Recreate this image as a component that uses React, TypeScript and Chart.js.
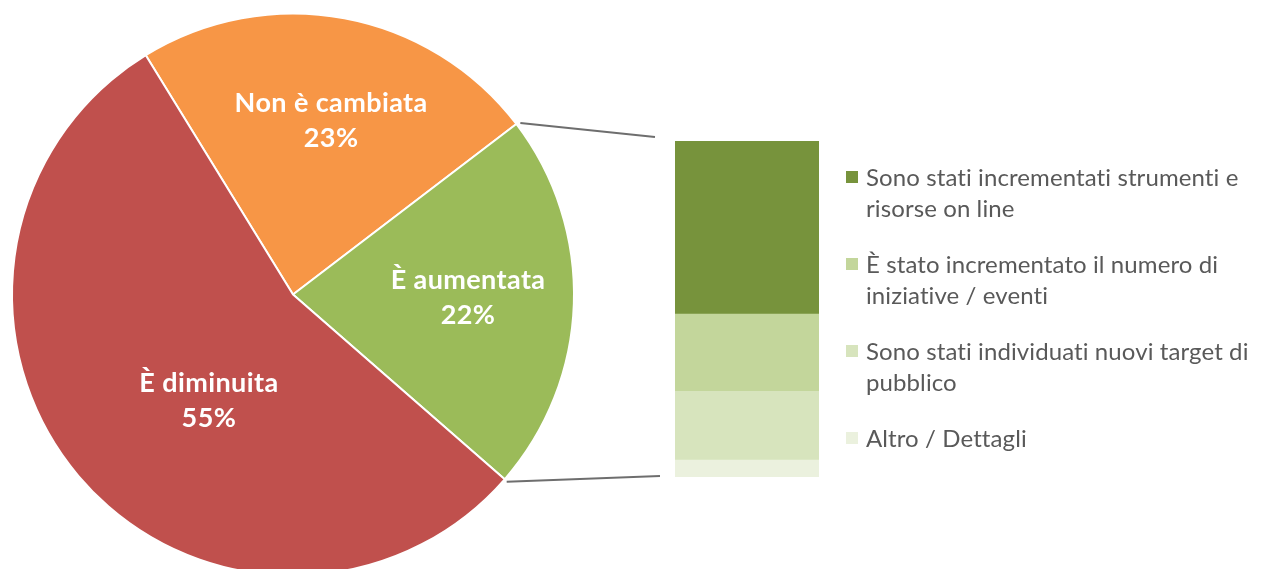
import React, { useEffect, useRef } from "react";
import { Chart, registerables } from "chart.js";

Chart.register(...registerables);

// ---- data ----
const pieLabels = ["Non è cambiata", "È aumentata", "È diminuita"];
const pieValues = [23.4, 21.8, 54.8];
const pieColors = ["#F79646", "#9BBB59", "#C0504D"];

// breakdown of "È aumentata" (top to bottom)
const barLabels = [
  ["Sono stati incrementati strumenti e", "risorse on line"],
  ["È stato incrementato il numero di", "iniziative / eventi"],
  ["Sono stati individuati nuovi target di", "pubblico"],
  ["Altro / Dettagli"],
];
const barValues = [51.5, 23, 20.5, 5];
const barColors = ["#77933C", "#C3D69B", "#D7E4BD", "#EBF1DE"];

// ---- layout constants ----
const W = 1261;
const H = 577;
const PIE_CANVAS_H = 600;
const PIE_LEFT = 11;
const PIE_TOP = 12.5;
const PIE_SIZE = 564;
const BAR_LEFT = 675;
const BAR_TOP = 141;
const BAR_W = 144;
const BAR_H = 336;

const LABEL_RADIUS = [0.636, 0.623, 0.481];
const LABEL_SHIFT_DEG = [1.8, -1, -11.3];

export default function App() {
  const pieRef = useRef<HTMLCanvasElement>(null);
  const barRef = useRef<HTMLCanvasElement>(null);

  useEffect(() => {
    if (!pieRef.current || !barRef.current) return;

    // stacked bar: dataset 0 at bottom, so reverse order
    const order = barValues.map((_, i) => i).reverse();
    const barChart = new Chart(barRef.current, {
      type: "bar",
      data: {
        labels: [""],
        datasets: order.map((i) => ({
          label: barLabels[i].join(" "),
          data: [barValues[i]],
          backgroundColor: barColors[i],
          borderWidth: 0,
          barPercentage: 1,
          categoryPercentage: 1,
        })),
      },
      options: {
        animation: false,
        responsive: false,
        maintainAspectRatio: false,
        layout: { padding: 0 },
        plugins: { legend: { display: false }, tooltip: { enabled: false } },
        scales: {
          x: { stacked: true, display: false },
          y: { stacked: true, display: false, min: 0, max: 100 },
        },
      },
    });

    const labelPlugin = {
      id: "pieLabels",
      afterDatasetsDraw(chart: any) {
        const meta = chart.getDatasetMeta(0);
        const ctx = chart.ctx;
        const total = pieValues.reduce((a, b) => a + b, 0);
        ctx.save();
        ctx.fillStyle = "#FFFFFF";
        ctx.font = "bold 27px Lato";
        try {
          (ctx as any).letterSpacing = "0.4px";
        } catch (e) {}
        ctx.textAlign = "center";
        ctx.textBaseline = "middle";
        meta.data.forEach((arc: any, i: number) => {
          const p = arc.getProps(["x", "y", "startAngle", "endAngle", "outerRadius"], true);
          const mid = (p.startAngle + p.endAngle) / 2 + (LABEL_SHIFT_DEG[i] * Math.PI) / 180;
          const r = p.outerRadius * LABEL_RADIUS[i];
          const cx = p.x + Math.cos(mid) * r;
          const cy = p.y + Math.sin(mid) * r;
          ctx.fillText(pieLabels[i], cx, cy - 17);
          ctx.fillText(Math.round((pieValues[i] / total) * 100) + "%", cx, cy + 18);
        });
        ctx.restore();
      },
    };

    const connectorPlugin = {
      id: "connectors",
      afterDraw(chart: any) {
        const meta = chart.getDatasetMeta(0);
        const arc = meta.data[1];
        if (!arc) return;
        const p = arc.getProps(["x", "y", "startAngle", "endAngle", "outerRadius"], true);
        const sx = p.x + Math.cos(p.startAngle) * p.outerRadius;
        const sy = p.y + Math.sin(p.startAngle) * p.outerRadius;
        const ex = p.x + Math.cos(p.endAngle) * p.outerRadius;
        const ey = p.y + Math.sin(p.endAngle) * p.outerRadius;
        let top = Infinity, bottom = -Infinity, left = Infinity;
        barChart.data.datasets.forEach((_: any, di: number) => {
          const el: any = barChart.getDatasetMeta(di).data[0];
          if (!el) return;
          top = Math.min(top, el.y, el.base);
          bottom = Math.max(bottom, el.y, el.base);
          left = Math.min(left, el.x - el.width / 2);
        });
        top += BAR_TOP; bottom += BAR_TOP; left += BAR_LEFT;
        const ctx = chart.ctx;
        ctx.save();
        ctx.strokeStyle = "#6E6E6E";
        ctx.lineWidth = 2;
        ctx.beginPath();
        ctx.moveTo(sx + 4, sy - 1);
        ctx.lineTo(left - 20, top - 4);
        ctx.moveTo(ex + 2, ey + 2.5);
        ctx.lineTo(left - 15, bottom - 1);
        ctx.stroke();
        ctx.restore();
      },
    };

    const pieChart = new Chart(pieRef.current, {
      type: "pie",
      data: {
        labels: pieLabels,
        datasets: [
          {
            data: pieValues,
            backgroundColor: pieColors,
            borderColor: "#FFFFFF",
            borderWidth: 2,
            hoverOffset: 0,
          },
        ],
      },
      options: {
        animation: false,
        responsive: false,
        maintainAspectRatio: false,
        rotation: -31.6,
        layout: {
          padding: {
            left: PIE_LEFT,
            top: PIE_TOP,
            right: W - PIE_LEFT - PIE_SIZE,
            bottom: PIE_CANVAS_H - PIE_TOP - PIE_SIZE,
          },
        },
        plugins: { legend: { display: false }, tooltip: { enabled: false } },
      },
      plugins: [labelPlugin, connectorPlugin],
    });

    return () => {
      pieChart.destroy();
      barChart.destroy();
    };
  }, []);

  return (
    <div
      style={{
        position: "relative",
        width: W,
        height: H,
        margin: -8,
        overflow: "hidden",
        background: "#FFFFFF",
      }}
    >
      <canvas
        ref={pieRef}
        width={W}
        height={PIE_CANVAS_H}
        style={{ position: "absolute", left: 0, top: 0, width: W, height: PIE_CANVAS_H }}
      />
      <canvas
        ref={barRef}
        width={BAR_W}
        height={BAR_H}
        style={{ position: "absolute", left: BAR_LEFT, top: BAR_TOP, width: BAR_W, height: BAR_H }}
      />
      <div
        style={{
          position: "absolute",
          left: 846,
          top: 161,
          fontFamily: "Lato, sans-serif",
          fontSize: 24,
          letterSpacing: "0.1px",
          lineHeight: "31px",
          color: "#595959",
          display: "flex",
          flexDirection: "column",
          gap: 25,
          whiteSpace: "nowrap",
        }}
      >
        {barLabels.map((lines, i) => (
          <div key={i} style={{ display: "flex", alignItems: "flex-start" }}>
            <div
              style={{
                width: 12,
                height: 12,
                marginTop: 10,
                marginRight: 8,
                background: barColors[i],
                flex: "none",
              }}
            />
            <div>
              {lines.map((l, j) => (
                <div key={j}>{l}</div>
              ))}
            </div>
          </div>
        ))}
      </div>
    </div>
  );
}
